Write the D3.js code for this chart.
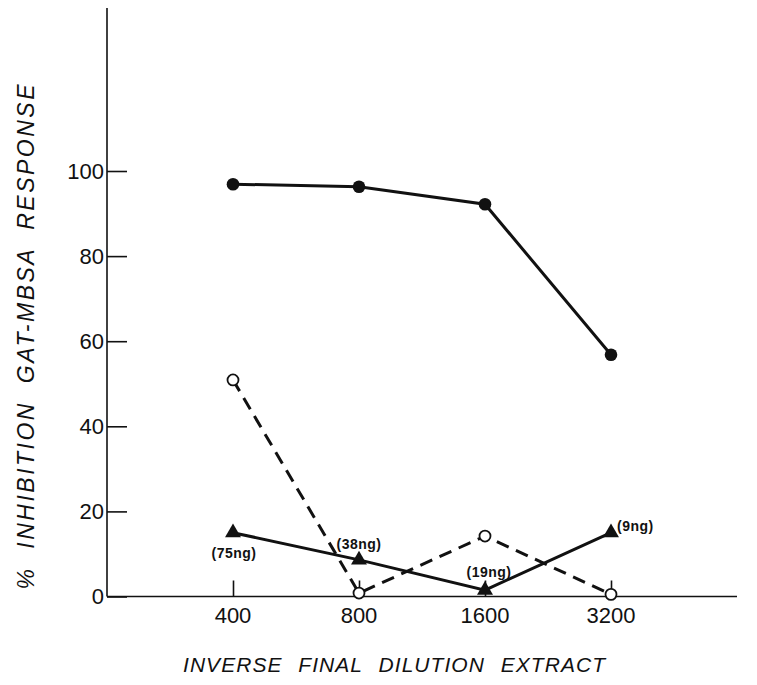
<!DOCTYPE html>
<html>
<head>
<meta charset="utf-8">
<script src="https://cdn.jsdelivr.net/npm/d3@7/dist/d3.min.js"></script>
<style>
  body { margin: 0; background: #fff; }
  svg { display: block; }
  text { font-family: "Liberation Sans", Arial, sans-serif; fill: #111; }
</style>
</head>
<body>
<div id="chart"></div>
<script>
const dilutions = [400, 800, 1600, 3200];
const yTicks = [0, 20, 40, 60, 80, 100];

// filled circles, open circles (dashed), filled triangles
const filledCircle = [96.9, 96.3, 92.2, 56.8];
const openCircle = [50.9, 0.8, 14.2, 0.5];
const triangle = [15, 8.6, 1.5, 15];
const triLabels = ["(75ng)", "(38ng)", "(19ng)", "(9ng)"];

const width = 757, height = 685;
const ink = "#111";

const svg = d3.select("#chart").append("svg")
    .attr("width", width)
    .attr("height", height);

const x = d3.scaleLog().base(2)
    .domain([200, 6400])
    .range([107, 737]);

const y = d3.scaleLinear()
    .domain([0, 100])
    .range([596.5, 171]);

const yTop = 8;

// axes
svg.append("line")
    .attr("x1", x(200)).attr("x2", x(200))
    .attr("y1", yTop).attr("y2", y(0))
    .attr("stroke", ink).attr("stroke-width", 1.6);

svg.append("line")
    .attr("x1", x(200)).attr("x2", x(6400))
    .attr("y1", y(0)).attr("y2", y(0))
    .attr("stroke", ink).attr("stroke-width", 1.6);

// y ticks point inward (right)
const yAxis = d3.axisRight(y)
    .tickValues(yTicks)
    .tickSize(20)
    .tickFormat("");
const gy = svg.append("g")
    .attr("transform", `translate(${x(200)},0)`)
    .call(yAxis);
gy.select(".domain").remove();
gy.selectAll(".tick line").attr("stroke", ink).attr("stroke-width", 1.6);

svg.selectAll(".ylab")
    .data(yTicks)
    .enter()
    .append("text")
    .attr("class", "ylab")
    .attr("x", x(200) - 3)
    .attr("y", d => y(d))
    .attr("dy", "0.36em")
    .attr("text-anchor", "end")
    .style("font-size", "22px")
    .text(d => d);

// x ticks point up
const xAxis = d3.axisTop(x)
    .tickValues(dilutions)
    .tickSize(16)
    .tickFormat("");
const gx = svg.append("g")
    .attr("transform", `translate(0,${y(0)})`)
    .call(xAxis);
gx.select(".domain").remove();
gx.selectAll(".tick line").attr("stroke", ink).attr("stroke-width", 1.6);

svg.selectAll(".xlab")
    .data(dilutions)
    .enter()
    .append("text")
    .attr("class", "xlab")
    .attr("x", d => x(d))
    .attr("y", 623)
    .attr("text-anchor", "middle")
    .style("font-size", "22px")
    .text(d => d);

// axis titles
svg.append("text")
    .attr("x", 394)
    .attr("y", 672)
    .attr("text-anchor", "middle")
    .attr("textLength", 422)
    .attr("lengthAdjust", "spacing")
    .style("font-size", "21px")
    .style("font-style", "italic")
    .style("word-spacing", "9px")
    .text("INVERSE FINAL DILUTION EXTRACT");

svg.append("text")
    .attr("transform", "translate(34,337) rotate(-90)")
    .attr("text-anchor", "middle")
    .attr("textLength", 505)
    .attr("lengthAdjust", "spacing")
    .style("font-size", "23px")
    .style("font-style", "italic")
    .style("word-spacing", "9px")
    .text("% INHIBITION GAT-MBSA RESPONSE");

const line = d3.line()
    .x((d, i) => x(dilutions[i]))
    .y(d => y(d));

// solid circles
svg.append("path")
    .datum(filledCircle)
    .attr("fill", "none")
    .attr("stroke", ink)
    .attr("stroke-width", 3)
    .attr("d", line);

svg.selectAll(".fc")
    .data(filledCircle)
    .enter()
    .append("circle")
    .attr("class", "fc")
    .attr("cx", (d, i) => x(dilutions[i]))
    .attr("cy", d => y(d))
    .attr("r", 6.3)
    .attr("fill", ink);

// dashed open circles
svg.append("path")
    .datum(openCircle)
    .attr("fill", "none")
    .attr("stroke", ink)
    .attr("stroke-width", 3)
    .attr("stroke-dasharray", "13,8")
    .attr("d", line);

svg.selectAll(".oc")
    .data(openCircle)
    .enter()
    .append("circle")
    .attr("class", "oc")
    .attr("cx", (d, i) => x(dilutions[i]))
    .attr("cy", d => y(d))
    .attr("r", 5.5)
    .attr("fill", "#fff")
    .attr("stroke", ink)
    .attr("stroke-width", 1.8);

// triangles
svg.append("path")
    .datum(triangle)
    .attr("fill", "none")
    .attr("stroke", ink)
    .attr("stroke-width", 3)
    .attr("d", line);

svg.selectAll(".tri")
    .data(triangle)
    .enter()
    .append("path")
    .attr("class", "tri")
    .attr("transform", (d, i) => `translate(${x(dilutions[i])},${y(d)})`)
    .attr("d", d3.symbol().type(d3.symbolTriangle).size(110))
    .attr("fill", ink);

// amount labels next to triangles
const labelPos = [
    { dx: 1, dy: 25, anchor: "middle" },
    { dx: 0, dy: -11, anchor: "middle" },
    { dx: 4, dy: -13, anchor: "middle" },
    { dx: 6, dy: -2, anchor: "start" }
];

svg.selectAll(".nglab")
    .data(triLabels)
    .enter()
    .append("text")
    .attr("class", "nglab")
    .attr("x", (d, i) => x(dilutions[i]) + labelPos[i].dx)
    .attr("y", (d, i) => y(triangle[i]) + labelPos[i].dy)
    .attr("text-anchor", (d, i) => labelPos[i].anchor)
    .style("font-size", "14px")
    .style("font-weight", "bold")
    .style("letter-spacing", "0.5px")
    .text(d => d);
</script>
</body>
</html>
